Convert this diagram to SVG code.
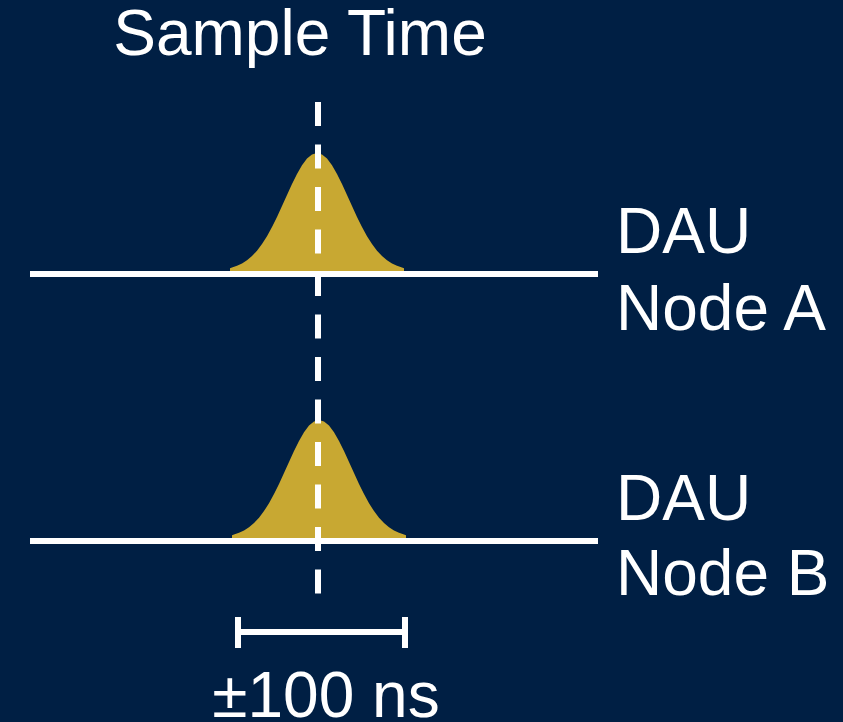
<svg xmlns="http://www.w3.org/2000/svg" width="843" height="722" viewBox="0 0 843 722">
  <style>
    .label { font-family: "Liberation Sans", Arial, sans-serif; font-size: 64px; fill: #ffffff; }
    .axis { stroke: #ffffff; stroke-width: 6; fill: none; }
    .pulse { fill: #c8a832; stroke: none; }
    .marker { stroke: #ffffff; stroke-width: 6; stroke-dasharray: 24 18.5; fill: none; }
  </style>
  <defs>
    <!-- Gaussian pulse, sigma 32 px, peak 118 px, centred on x=0 with the base at y=0 -->
    <path id="gauss" d="M-87,3 L-87,-2.8 L-85,-3.5 L-80,-5.2 L-75,-7.6 L-70,-10.8 L-65,-15 L-60,-20.3 L-55,-26.9 L-50,-34.8 L-45,-43.9 L-40,-54 L-35,-64.9 L-30,-76 L-25,-87 L-20,-97.1 L-15,-105.7 L-10,-112.4 L-5,-116.6 L0,-118 L5,-116.6 L10,-112.4 L15,-105.7 L20,-97.1 L25,-87 L30,-76 L35,-64.9 L40,-54 L45,-43.9 L50,-34.8 L55,-26.9 L60,-20.3 L65,-15 L70,-10.8 L75,-7.6 L80,-5.2 L85,-3.5 L87,-2.8 L87,3 Z"/>
  </defs>

  <rect width="843" height="722" fill="#001f44"/>

  <g id="node-a">
    <use href="#gauss" class="pulse" transform="translate(317,271)"/>
    <line class="axis" x1="30" y1="274" x2="598" y2="274"/>
    <text class="label" x="616" y="253">DAU</text>
    <text class="label" x="616" y="330">Node A</text>
  </g>

  <g id="node-b">
    <use href="#gauss" class="pulse" transform="translate(319,538)"/>
    <line class="axis" x1="30" y1="541" x2="598" y2="541"/>
    <text class="label" x="616" y="520">DAU</text>
    <text class="label" x="616" y="595">Node B</text>
  </g>

  <g id="connectors">
    <!-- sample instant marker -->
    <line class="marker" x1="318" y1="102" x2="318" y2="594"/>
    <!-- jitter range bracket -->
    <path class="axis" d="M238,617 V648 M238,632 H405 M405,617 V648"/>
  </g>

  <g id="sample-time">
    <text class="label" x="300" y="55" text-anchor="middle">Sample Time</text>
  </g>

  <g id="jitter">
    <text class="label" x="326" y="717" text-anchor="middle">±100 ns</text>
  </g>
</svg>
